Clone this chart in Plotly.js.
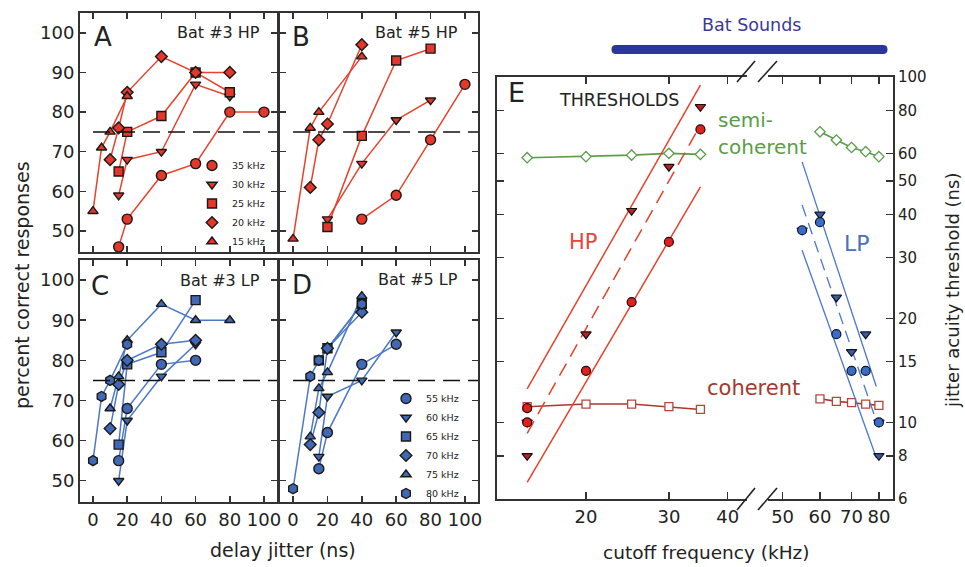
<!DOCTYPE html>
<html><head><meta charset="utf-8">
<script src="https://cdn.plot.ly/plotly-3.0.1.min.js"></script>
<style>html,body{margin:0;padding:0;background:#fff;}#chart{width:965px;height:567px;}</style>
</head><body><div id="chart"></div>
<script>
// ---------------- DATA ----------------
const hpLabels = ['35 kHz','30 kHz','25 kHz','20 kHz','15 kHz'];
const lpLabels = ['55 kHz','60 kHz','65 kHz','70 kHz','75 kHz','80 kHz'];
const criterion = 75;

// Panel A: Bat #3 HP (delay jitter ns, percent correct)
const A35x=[15,20,40,60,80,100], A35y=[46,53,64,67,80,80];
const A30x=[15,20,40,60,80],     A30y=[59,68,70,87,84];
const A25x=[15,20,40,60,80],     A25y=[65,75,79,90,85];
const A20x=[10,15,20,40,60,80],  A20y=[68,76,85,94,90,90];
const A15x=[0,5,10,20],          A15y=[55,71,75,84];

// Panel B: Bat #5 HP
const B35x=[40,60,80,100], B35y=[53,59,73,87];
const B30x=[20,40,60,80],  B30y=[53,67,78,83];
const B25x=[20,40,60,80],  B25y=[51,74,93,96];
const B20x=[10,15,20,40],  B20y=[61,73,77,97];
const B15x=[0,10,15,40],   B15y=[48,76,80,94];

// Panel C: Bat #3 LP
const C55x=[15,20,40,60],        C55y=[55,68,79,80];
const C60x=[15,20,40,60],        C60y=[50,65,76,84];
const C65x=[15,20,40,60],        C65y=[59,79,82,95];
const C70x=[10,15,20,40,60],     C70y=[63,74,80,84,85];
const C75x=[10,15,20,40,60,80],  C75y=[68,76,85,94,90,90];
const C80x=[0,5,10,20],          C80y=[55,71,75,84];

// Panel D: Bat #5 LP
const D55x=[15,20,40,60], D55y=[53,62,79,84];
const D60x=[15,20,40,60], D60y=[56,71,75,87];
const D65x=[15,20,40],    D65y=[80,83,94];
const D70x=[10,15,20,40], D70y=[59,67,83,92];
const D75x=[10,15,20,40], D75y=[61,73,77,96];
const D80x=[0,10,15,40],  D80y=[48,76,80,94];

// Panel E: thresholds vs cutoff frequency (kHz)
const semiLoF=[15,20,25,30,35], semiLoT=[58.4,58.8,59.4,60.1,59.7];
const semiHiF=[60,65,70,75,80], semiHiT=[69.4,65.7,62.5,60.8,58.8];
const cohLoF=[15,20,25,30,35],  cohLoT=[11.1,11.3,11.3,11.1,10.9];
const cohHiF=[60,65,70,75,80],  cohHiT=[11.7,11.5,11.4,11.3,11.2];
const hpCircF=[15,15,20,25,30,35], hpCircT=[11,10,14.1,22.3,33.3,70.5];
const hpTriF=[15,15,20,25,30,35],  hpTriT=[8,10,18,41,55,82];
const lpCircF=[55,60,65,70,75,80], lpCircT=[36,38,18,14.1,14.1,10];
const lpTriF=[55,60,65,70,75,80,80], lpTriT=[36,40,23,16,18,10,8];
const hpFitF=[15,35], hpFitHi=[12.5,94.8], hpFitMid=[9.3,72.6], hpFitLo=[6.7,48.1];
const lpFitF=[55,79], lpFitHi=[56.8,12.7], lpFitMid=[42.6,10.1], lpFitLo=[31.5,7.9];

// ---------------- STYLE ----------------
const W=965, H=567;
const PX=p=>p/W, PY=p=>1-p/H;
const FONT='DejaVu Sans';
const redLine='#e8412c', redFill='#e2372a';
const blueLine='#4c78c8', blueFill='#3f69b5';
const edge='#1c1818';
const hpSyms=['circle','triangle-down','square','diamond','triangle-up'];
const lpSyms=['circle','triangle-down','square','diamond','triangle-up','hexagon'];
const symSize={'circle':10,'triangle-down':9,'triangle-up':9,'square':9,'diamond':9,'hexagon':10};

const lineTraces=[], markerTraces=[];
function addSeries(xs,ys,xa,ya,sym,lc,fc,name,legendId){
  lineTraces.push({type:'scatter',mode:'lines',x:xs,y:ys,xaxis:xa,yaxis:ya,
    line:{color:lc,width:1.5},showlegend:false,hoverinfo:'skip'});
  const m={type:'scatter',mode:'markers',x:xs,y:ys,xaxis:xa,yaxis:ya,name:name,
    marker:{symbol:sym,size:symSize[sym],color:fc,line:{color:edge,width:1.4}},
    showlegend:!!legendId};
  if(legendId) m.legend=legendId;
  markerTraces.push(m);
}
const Aset=[[A35x,A35y],[A30x,A30y],[A25x,A25y],[A20x,A20y],[A15x,A15y]];
const Bset=[[B35x,B35y],[B30x,B30y],[B25x,B25y],[B20x,B20y],[B15x,B15y]];
const Cset=[[C55x,C55y],[C60x,C60y],[C65x,C65y],[C70x,C70y],[C75x,C75y],[C80x,C80y]];
const Dset=[[D55x,D55y],[D60x,D60y],[D65x,D65y],[D70x,D70y],[D75x,D75y],[D80x,D80y]];
Aset.forEach((s,i)=>addSeries(s[0],s[1],'x','y',hpSyms[i],redLine,redFill,hpLabels[i],'legend'));
Bset.forEach((s,i)=>addSeries(s[0],s[1],'x2','y2',hpSyms[i],redLine,redFill,hpLabels[i],null));
Cset.forEach((s,i)=>addSeries(s[0],s[1],'x3','y3',lpSyms[i],blueLine,blueFill,lpLabels[i],null));
Dset.forEach((s,i)=>addSeries(s[0],s[1],'x4','y4',lpSyms[i],blueLine,blueFill,lpLabels[i],'legend2'));

const green='#5a9c48', cohCol='#a8392e';
const eTraces=[
  {x:semiLoF,y:semiLoT,xaxis:'x5',yaxis:'y5',mode:'lines+markers',line:{color:green,width:1.6},
   marker:{symbol:'diamond',size:8,color:'#fff',line:{color:green,width:1.3}}},
  {x:semiHiF,y:semiHiT,xaxis:'x6',yaxis:'y6',mode:'lines+markers',line:{color:green,width:1.6},
   marker:{symbol:'diamond',size:8,color:'#fff',line:{color:green,width:1.3}}},
  {x:cohLoF,y:cohLoT,xaxis:'x5',yaxis:'y5',mode:'lines+markers',line:{color:cohCol,width:1.6},
   marker:{symbol:'square',size:8,color:'#fff',line:{color:'#b4473c',width:1.3}}},
  {x:cohHiF,y:cohHiT,xaxis:'x6',yaxis:'y6',mode:'lines+markers',line:{color:cohCol,width:1.6},
   marker:{symbol:'square',size:8,color:'#fff',line:{color:'#b4473c',width:1.3}}},
  {x:hpFitF,y:hpFitHi,xaxis:'x5',yaxis:'y5',mode:'lines',line:{color:redLine,width:1.5}},
  {x:hpFitF,y:hpFitMid,xaxis:'x5',yaxis:'y5',mode:'lines',line:{color:redLine,width:1.5,dash:'14px,8px'}},
  {x:hpFitF,y:hpFitLo,xaxis:'x5',yaxis:'y5',mode:'lines',line:{color:redLine,width:1.5}},
  {x:lpFitF,y:lpFitHi,xaxis:'x6',yaxis:'y6',mode:'lines',line:{color:blueLine,width:1.3}},
  {x:lpFitF,y:lpFitMid,xaxis:'x6',yaxis:'y6',mode:'lines',line:{color:blueLine,width:1.3,dash:'12px,7px'}},
  {x:lpFitF,y:lpFitLo,xaxis:'x6',yaxis:'y6',mode:'lines',line:{color:blueLine,width:1.3}},
  {x:hpTriF,y:hpTriT,xaxis:'x5',yaxis:'y5',mode:'markers',
   marker:{symbol:'triangle-down',size:9,color:'#b0262a',line:{color:'#220808',width:1.2}}},
  {x:hpCircF,y:hpCircT,xaxis:'x5',yaxis:'y5',mode:'markers',
   marker:{symbol:'circle',size:9,color:'#e0201c',line:{color:'#220808',width:1.2}}},
  {x:lpTriF,y:lpTriT,xaxis:'x6',yaxis:'y6',mode:'markers',
   marker:{symbol:'triangle-down',size:9,color:'#3c5c9c',line:{color:'#0c1428',width:1.2}}},
  {x:lpCircF,y:lpCircT,xaxis:'x6',yaxis:'y6',mode:'markers',
   marker:{symbol:'circle',size:9,color:'#3a6cc4',line:{color:'#0c1428',width:1.2}}}
].map(t=>Object.assign({type:'scatter',showlegend:false,hoverinfo:'skip'},t));

// ---------------- LAYOUT ----------------
const tickFont={family:FONT,size:18,color:'#222'};
function frameAx(extra){
  return Object.assign({showline:true,linecolor:'#333',linewidth:2,mirror:'ticks',
    ticks:'inside',ticklen:6,tickwidth:1.5,tickcolor:'#333',showgrid:false,zeroline:false,
    tickfont:tickFont},extra);
}
const xR=[-7.6,107.6], yR=[44.7,105];
const xTicks={tickmode:'linear',tick0:0,dtick:20,range:xR};
const yTicks={tickmode:'linear',tick0:0,dtick:10,range:yR};
const dA=[PX(80),PX(277)], dB=[PX(280),PX(478)];
const dTop=[PY(252),PY(13)], dBot=[PY(502),PY(260)];
const eY=[PY(499),PY(77)];
const logTicks=[6,8,10,15,20,30,40,50,60,80,100];

const layout={
  width:W,height:H,margin:{l:0,r:0,t:0,b:0},paper_bgcolor:'#fff',plot_bgcolor:'rgba(0,0,0,0)',
  font:{family:FONT,color:'#222'},
  xaxis: frameAx(Object.assign({domain:dA,anchor:'y',showticklabels:false},xTicks)),
  yaxis: frameAx(Object.assign({domain:dTop,anchor:'x'},yTicks)),
  xaxis2:frameAx(Object.assign({domain:dB,anchor:'y2',showticklabels:false},xTicks)),
  yaxis2:frameAx(Object.assign({domain:dTop,anchor:'x2',showticklabels:false},yTicks)),
  xaxis3:frameAx(Object.assign({domain:dA,anchor:'y3'},xTicks)),
  yaxis3:frameAx(Object.assign({domain:dBot,anchor:'x3'},yTicks)),
  xaxis4:frameAx(Object.assign({domain:dB,anchor:'y4'},xTicks)),
  yaxis4:frameAx(Object.assign({domain:dBot,anchor:'x4',showticklabels:false},yTicks)),
  xaxis5:frameAx({domain:[PX(497),PX(747)],anchor:'y5',type:'log',range:[1.112,1.643],
    tickmode:'array',tickvals:[20,30,40],ticktext:['20','30','40'],ticklen:7}),
  xaxis6:frameAx({domain:[PX(768),PX(893)],anchor:'y6',type:'log',range:[1.668,1.933],
    tickmode:'array',tickvals:[50,60,70,80],ticktext:['50','60','70','80'],ticklen:7}),
  yaxis5:frameAx({domain:eY,anchor:'x5',type:'log',range:[Math.log10(6),2],mirror:false,
    tickmode:'array',tickvals:logTicks,showticklabels:false,ticklen:7}),
  yaxis6:frameAx({domain:eY,anchor:'x6',side:'right',type:'log',range:[Math.log10(6),2],mirror:false,
    tickmode:'array',tickvals:logTicks,ticktext:logTicks.map(String),ticklen:7,
    tickfont:{family:FONT,size:15,color:'#222'}}),
  legend:{x:PX(192),y:PY(151),xanchor:'left',yanchor:'top',bgcolor:'rgba(0,0,0,0)',
    font:{family:FONT,size:9.5,color:'#222'},tracegroupgap:0,traceorder:'normal'},
  legend2:{x:PX(386),y:PY(384),xanchor:'left',yanchor:'top',bgcolor:'rgba(0,0,0,0)',
    font:{family:FONT,size:9.5,color:'#222'},tracegroupgap:0,traceorder:'normal'},
  shapes:[],annotations:[]
};
layout.xaxis5.tickfont={family:FONT,size:18,color:'#222'};
layout.xaxis6.tickfont={family:FONT,size:18,color:'#222'};

// criterion lines
[['x','y'],['x2','y2'],['x3','y3'],['x4','y4']].forEach(p=>{
  layout.shapes.push({type:'line',xref:p[0],yref:p[1],x0:0,x1:xR[1],y0:criterion,y1:criterion,
    line:{color:'#111',width:1.5,dash:'17px,8px'}});
});
// axis break marks
function seg(x0,y0,x1,y1,w){return {type:'line',xref:'paper',yref:'paper',x0:PX(x0),y0:PY(y0),x1:PX(x1),y1:PY(y1),line:{color:'#222',width:w||1.6}};}
layout.shapes.push(seg(737,510,755,488),seg(758,510,777,488),seg(737,82,755,61),seg(758,82,777,61));
// Bat Sounds bar with rounded ends
(function(){
  const x1=616,x2=883,y1=45,y2=54,r=4.5,ym=(y1+y2)/2;
  const P=(x,y)=>PX(x).toFixed(5)+','+PY(y).toFixed(5);
  const path='M'+P(x1,y1)+' L'+P(x2,y1)+' Q'+P(x2+r,y1)+' '+P(x2+r,ym)+' Q'+P(x2+r,y2)+' '+P(x2,y2)+
    ' L'+P(x1,y2)+' Q'+P(x1-r,y2)+' '+P(x1-r,ym)+' Q'+P(x1-r,y1)+' '+P(x1,y1)+' Z';
  layout.shapes.push({type:'path',xref:'paper',yref:'paper',path:path,fillcolor:'#2b359e',line:{width:0}});
})();

function ann(text,x,y,size,color,extra){
  return Object.assign({text:text,x:x,y:y,xref:'paper',yref:'paper',showarrow:false,
    font:{family:FONT,size:size,color:color||'#222'},xanchor:'center',yanchor:'middle'},extra||{});
}
function dann(text,xa,ya,x,y,size,extra){
  return Object.assign({text:text,xref:xa+' domain',yref:ya+' domain',x:x,y:y,showarrow:false,
    font:{family:FONT,size:size,color:'#222'},xanchor:'center',yanchor:'middle'},extra||{});
}
layout.annotations.push(
  ann('percent correct responses',PX(22),PY(285),19,'#222',{textangle:-90}),
  ann('delay jitter (ns)',PX(283),PY(550),19),
  ann('cutoff frequency (kHz)',PX(706),PY(552),18.5),
  ann('jitter acuity threshold (ns)',PX(952),PY(291),18,'#222',{textangle:-90}),
  dann('A','x','y',0.117,0.9,26), dann('Bat #3 HP','x','y',0.925,0.92,16,{xanchor:'right'}),
  dann('B','x2','y2',0.106,0.9,26), dann('Bat #5 HP','x2','y2',0.909,0.92,16,{xanchor:'right'}),
  dann('C','x3','y3',0.10,0.893,26), dann('Bat #3 LP','x3','y3',0.925,0.917,16,{xanchor:'right'}),
  dann('D','x4','y4',0.111,0.897,26), dann('Bat #5 LP','x4','y4',0.909,0.92,16,{xanchor:'right'}),
  ann('E',PX(516),PY(93),27),
  ann('THRESHOLDS',PX(619),PY(100),17.5),
  ann('HP',PX(583),PY(242),21,'#e8453a'),
  ann('semi-',PX(716),PY(120),20,green,{xanchor:'left'}),
  ann('coherent',PX(716),PY(147),20,green,{xanchor:'left'}),
  ann('coherent',PX(753),PY(388),21,'#a23a30'),
  ann('LP',PX(857),PY(243),22,'#4a70b8'),
  ann('Bat Sounds',PX(751),PY(25),17.5,'#3a3a96')
);

Plotly.newPlot('chart',[...lineTraces,...eTraces,...markerTraces],layout,{displayModeBar:false,staticPlot:true});
</script></body></html>
